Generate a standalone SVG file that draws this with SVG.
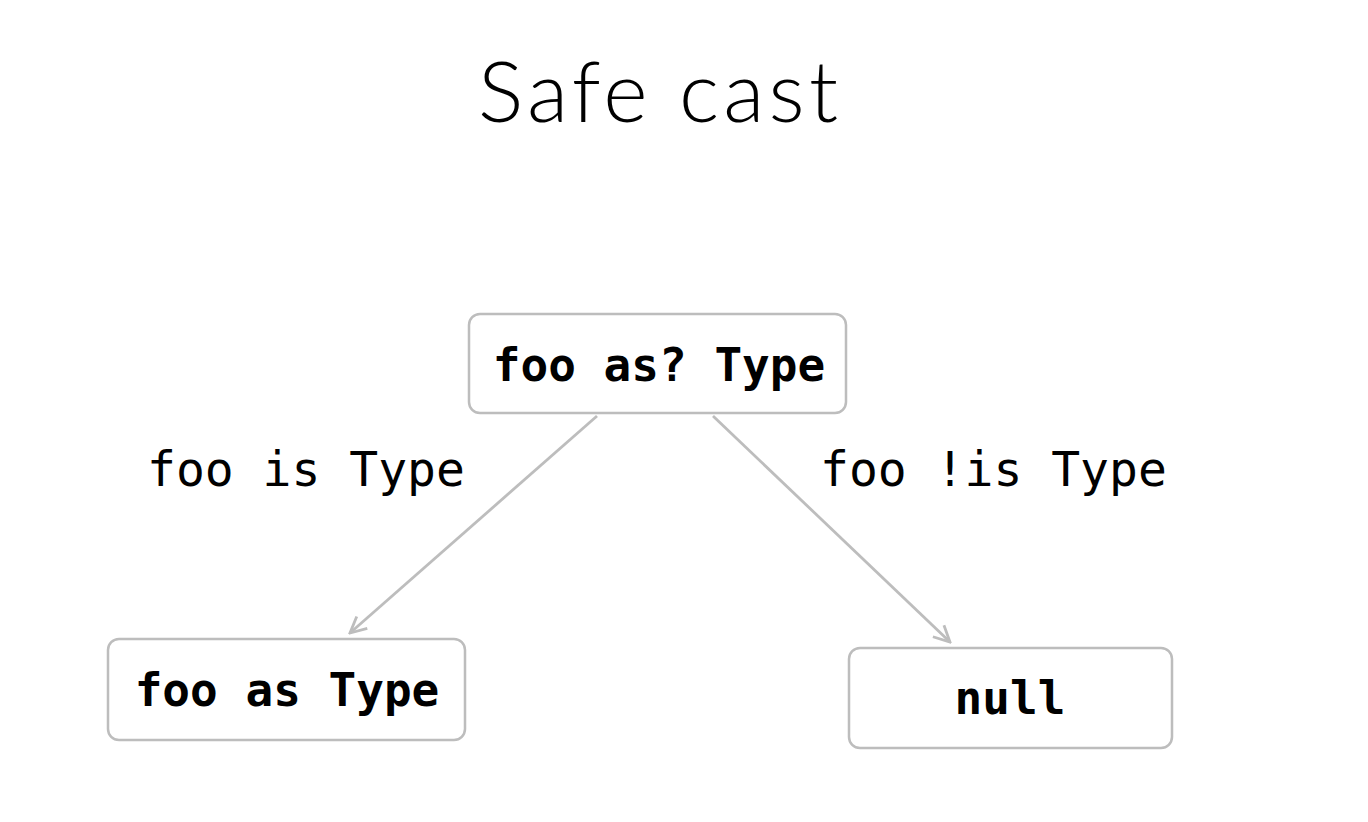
<svg xmlns="http://www.w3.org/2000/svg" width="1368" height="822" viewBox="0 0 1368 822">
<style>
.box{fill:#fff;stroke:#bdbdbd;stroke-width:2.5}
.code{font-family:"DejaVu Sans Mono",monospace;font-weight:bold;font-size:46px;fill:#000}
.lbl{font-family:"DejaVu Sans Mono",monospace;font-size:48px;fill:#000}
.edge{stroke:#bdbdbd;stroke-width:2.8;fill:none}
</style>
<defs>
<marker id="arr" viewBox="0 0 20 20" refX="18" refY="10" markerWidth="20" markerHeight="20" markerUnits="userSpaceOnUse" orient="auto">
<path d="M2,2 L18,10 L2,18" fill="none" stroke="#bdbdbd" stroke-width="2.8"/>
</marker>
</defs>
<rect width="1368" height="822" fill="#fff"/>
<text x="478" y="122" textLength="360" lengthAdjust="spacing" font-family="Lato, 'Open Sans', sans-serif" font-weight="300" font-size="85">Safe cast</text>
<g id="edges">
<line class="edge" x1="597" y1="416" x2="350" y2="633" marker-end="url(#arr)"/>
<line class="edge" x1="713" y1="416" x2="950" y2="642" marker-end="url(#arr)"/>
<text class="lbl" x="147" y="486">foo is Type</text>
<text class="lbl" x="820" y="486">foo !is Type</text>
</g>
<g id="n1">
<rect class="box" x="469" y="314" width="377" height="99" rx="11"/>
<text class="code" x="659" y="381" text-anchor="middle">foo as? Type</text>
</g>
<g id="n2">
<rect class="box" x="108" y="639" width="357" height="101" rx="11"/>
<text class="code" x="287" y="706" text-anchor="middle">foo as Type</text>
</g>
<g id="n3">
<rect class="box" x="849" y="648" width="323" height="100" rx="11"/>
<text class="code" x="1010" y="714" text-anchor="middle">null</text>
</g>
</svg>
